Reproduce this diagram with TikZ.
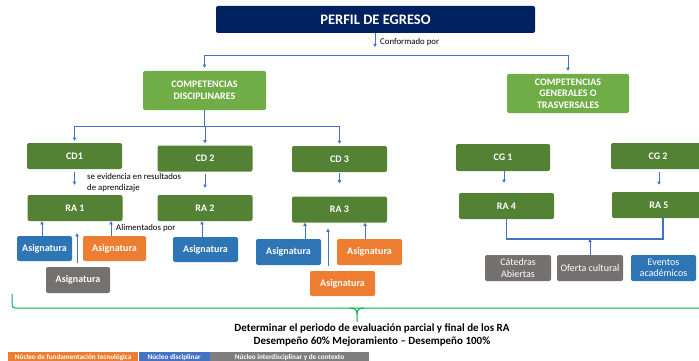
\documentclass[tikz,border=0pt]{standalone}
\usepackage{fontspec}
\setmainfont{Carlito}
\usetikzlibrary{arrows.meta}
\definecolor{navy}{HTML}{002060}
\definecolor{lgreen}{HTML}{70AD47}
\definecolor{dgreen}{HTML}{548235}
\definecolor{bbox}{HTML}{2E75B6}
\definecolor{obox}{HTML}{ED7D31}
\definecolor{gbox}{HTML}{767171}
\definecolor{cblue}{HTML}{4472C4}
\definecolor{bgreen}{HTML}{00B050}
\definecolor{leggray}{HTML}{7F7F7F}
\begin{document}
\begin{tikzpicture}[x=1pt,y=-1pt,
  box/.style={rounded corners=2pt, text=white, align=center, inner sep=1pt,
    font=\fontsize{10}{11.5}\selectfont\bfseries},
  cdbox/.style={box, fill=dgreen, minimum width=95, minimum height=26},
  asig/.style={box, minimum width=64, minimum height=25},
  ebox/.style={box, minimum width=66, minimum height=26, font=\fontsize{10}{11.5}\selectfont},
  conn/.style={draw=cblue, line width=0.8pt},
  arr/.style={conn, -{Triangle[length=3.2pt,width=3.4pt]}},
  lbl/.style={font=\fontsize{8.8}{11}\selectfont, text=black, inner sep=0pt, align=left},
  brace/.style={draw=bgreen, line width=1pt},
  leg/.style={text=white, inner sep=0pt, minimum height=10, anchor=north west,
    font=\fontsize{7.2}{8}\selectfont\bfseries}
]
\useasboundingbox (0,0) rectangle (699,361);

% top level
\node[box, fill=navy, minimum width=319, minimum height=27,
  font=\fontsize{14.5}{16}\selectfont\bfseries] (perfil) at (375.5,19.5) {PERFIL DE EGRESO};
\node[box, fill=lgreen, minimum width=123, minimum height=39] (cdis) at (204.5,90.5) {COMPETENCIAS\\DISCIPLINARES};
\node[box, fill=lgreen, minimum width=122, minimum height=39] (cgen) at (568,93.5) {COMPETENCIAS\\GENERALES O\\TRASVERSALES};

\coordinate (pend) at (375,47);
\coordinate (busT) at (375,55);
\draw[arr] (perfil.south -| pend) -- (pend);
\node[lbl, anchor=west] (conf) at (380,42) {Conformado por};
\draw[arr, shorten >=3pt] (busT) -| (cdis.north);
\draw[arr, shorten >=3pt] (busT) -| (cgen.north);

% disciplinary competences
\node[cdbox] (cd1) at (74.5,156) {CD1};
\node[cdbox] (cd2) at (205,158.5) {CD 2};
\node[cdbox] (cd3) at (339.5,159) {CD 3};
\coordinate (busC) at (204.5,126);
\draw[conn] (cdis.south) -- (busC);
\draw[arr, shorten >=2pt] (busC) -| (cd1.north);
\draw[arr, shorten >=2pt] (busC) -| (cd2.north);
\draw[arr, shorten >=2pt] (busC) -| (cd3.north);

\node[cdbox] (ra1) at (75,208) {RA 1};
\node[cdbox] (ra2) at (205,208) {RA 2};
\node[cdbox] (ra3) at (339.5,209.5) {RA 3};
\draw[arr, shorten <=3pt, shorten >=10pt] (cd1) -- (cd1 |- ra1.north) coordinate (ra1t);
\draw[arr, shorten <=2pt, shorten >=7pt] (cd2.south) -- (ra2.north);
\draw[arr, shorten <=1pt, shorten >=13pt] (cd3.south) -- (ra3.north);
\node[lbl, anchor=west] (evid) at (87,182.5) {se evidencia en resultados\\de aprendizaje};

% asignaturas RA1
\node[asig, fill=bbox, minimum width=55] (b1) at (44.5,248.5) {Asignatura};
\node[asig, fill=obox, minimum width=63] (o1) at (114.5,248.5) {Asignatura};
\node[asig, fill=gbox, minimum height=26] (g1) at (78,280) {Asignatura};
\draw[arr] ([xshift=-2.5]b1.north) -- ([xshift=-2.5]b1.north |- ra1.south);
\draw[arr] ([xshift=-3.5]o1.north) -- ([xshift=-3.5]o1.north |- ra1.south);
\draw[arr, shorten <=4pt, shorten >=12pt] ([xshift=-1]g1.north) -- ([xshift=-1]g1.north |- ra1.south);
\node[lbl, anchor=west] (alim) at (116,228) {Alimentados por};

% asignaturas RA2
\node[asig, fill=bbox, minimum width=65] (b2) at (205.5,249.5) {Asignatura};
\draw[arr] ([xshift=-3.5]b2.north) -- ([xshift=-3.5]b2.north |- ra2.south);

% asignaturas RA3
\node[asig, fill=bbox, minimum width=65, minimum height=26] (b3) at (288.5,252) {Asignatura};
\node[asig, fill=obox, minimum width=65, minimum height=26] (o3) at (369.5,252) {Asignatura};
\node[asig, fill=obox, minimum width=65] (o4) at (342.5,283.5) {Asignatura};
\draw[arr] ([xshift=16.5]b3.north) -- ([xshift=16.5]b3.north |- ra3.south);
\draw[arr] ([xshift=-4.5]o3.north) -- ([xshift=-4.5]o3.north |- ra3.south);
\draw[arr, shorten <=5pt, shorten >=6pt] ([xshift=-14.5]o4.north) -- ([xshift=-14.5]o4.north |- ra3.south);

% general competences
\node[cdbox, minimum width=94, minimum height=27] (cg1) at (503,157.5) {CG 1};
\node[cdbox, minimum width=94] (cg2) at (658,156) {CG 2};
\node[cdbox] (ra4) at (506.5,206) {RA 4};
\node[cdbox, minimum width=94] (ra5) at (659,205) {RA 5};
\draw[arr, shorten >=10pt] ([xshift=1]cg1.south) -- ([xshift=1]cg1.south |- ra4.north);
\draw[arr, shorten <=3pt, shorten >=7pt] ([xshift=1]cg2.south) -- ([xshift=1]cg2.south |- ra5.north);

\node[ebox, fill=gbox] (cat) at (518,268) {Cátedras\\Abiertas};
\node[ebox, fill=gbox, inner sep=0pt] (ofe) at (590,268) {Oferta cultural};
\node[ebox, fill=bbox, minimum width=65] (eve) at (663.5,268) {Eventos\\académicos};
\coordinate (join) at (590,239);
\draw[conn, line width=1.2pt] (ra4.south) |- (join) -| ([xshift=4]ra5.south);
\draw[arr] (ofe.north) -- (join);

% green brace
\coordinate (brL) at (12,294);
\coordinate (brM) at (357,308);
\coordinate (brT) at (357,322);
\draw[brace, rounded corners=3pt] (brL) -- (12,308) -- (710,308);
\draw[brace] (350,308) .. controls (355,308) and (357,310) .. (357,314) -- (brT);
\draw[brace] (364,308) .. controls (359,308) and (357,310) .. (357,314);

\node[font=\fontsize{11}{13.5}\selectfont\bfseries, align=center, inner sep=0pt] (det) at (372,335)
  {Determinar el periodo de evaluación parcial y final de los RA\\Desempeño 60\% Mejoramiento – Desempeño 100\%};

% legend
\node[leg, fill=obox, minimum width=130] (l1) at (8,352) {Núcleo de fundamentación tecnológica};
\node[leg, fill=cblue, minimum width=71] (l2) at (l1.north east) {Núcleo disciplinar};
\node[leg, fill=leggray, minimum width=159] (l3) at (l2.north east) {Núcleo interdisciplinar y de contexto};
\end{tikzpicture}
\end{document}
